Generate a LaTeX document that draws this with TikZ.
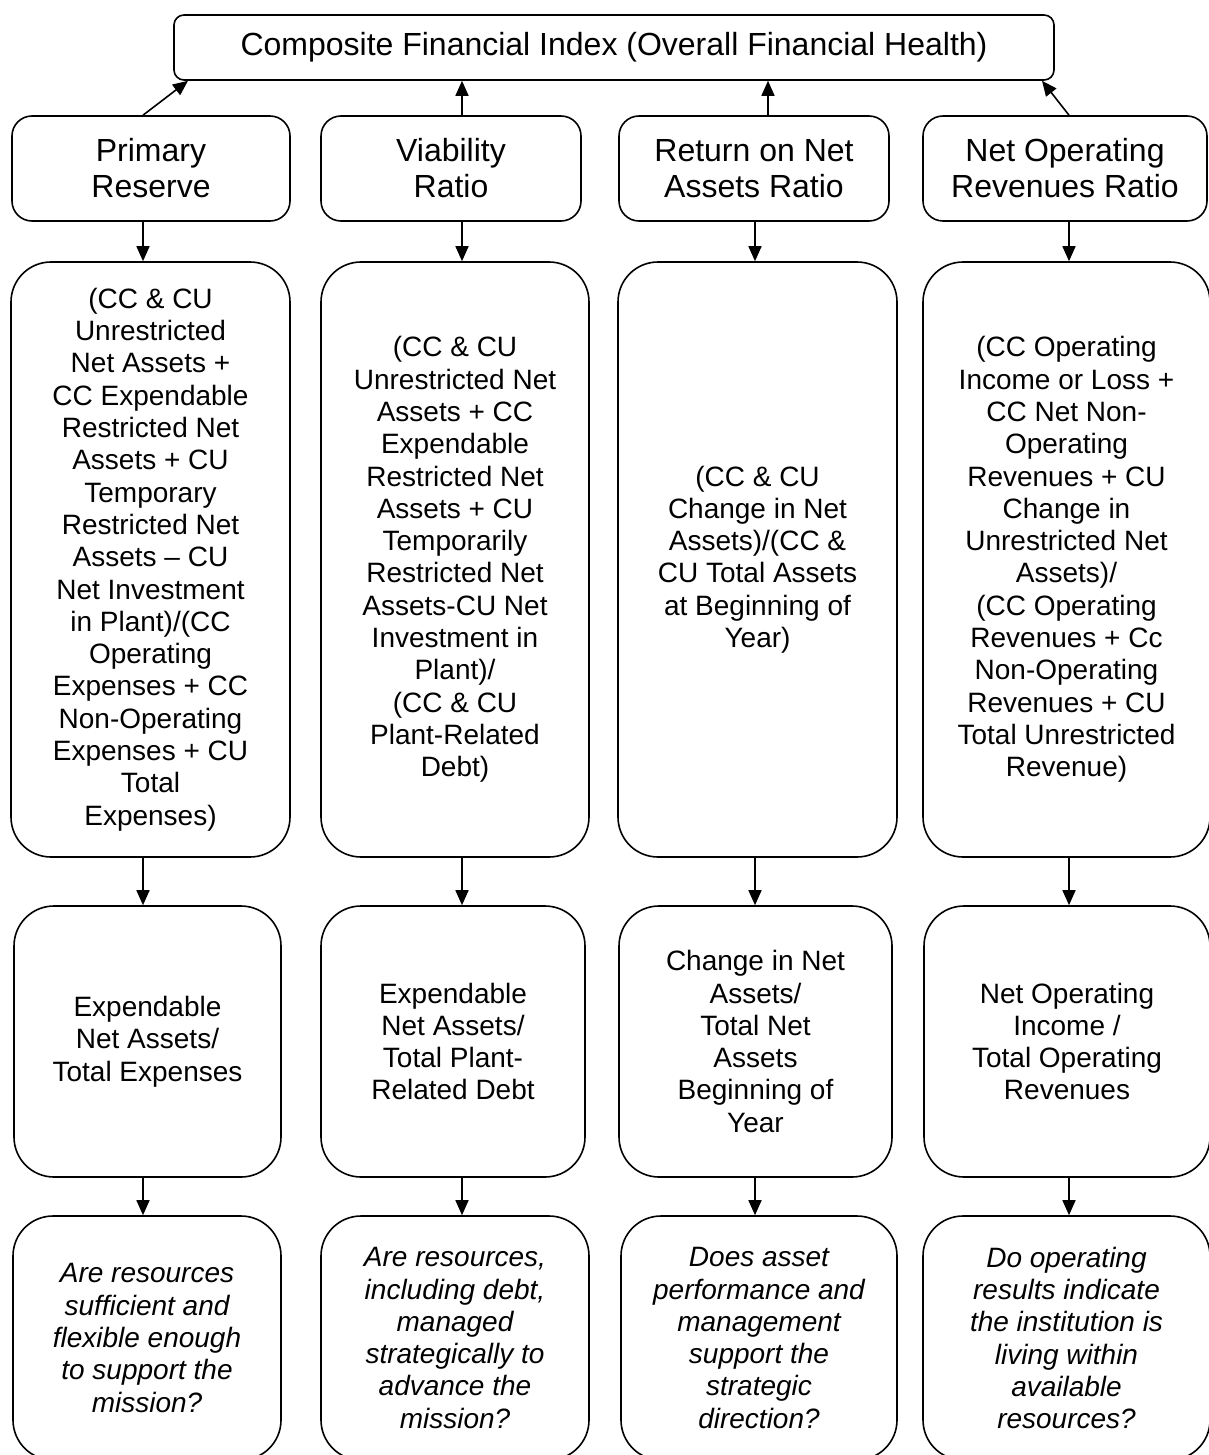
\documentclass[tikz,border=0pt]{standalone}
\usepackage{fontspec}
\setmainfont{Liberation Sans}
\usetikzlibrary{arrows.meta}
\begin{document}
\begin{tikzpicture}[x=1pt,y=-1pt,
  topbox/.style={draw, line width=1.6pt, rounded corners=10pt, inner sep=0pt, align=center, font=\fontsize{32}{36}\selectfont},
  headbox/.style={draw, line width=1.6pt, rounded corners=20pt, inner sep=0pt, align=center, font=\fontsize{32}{36}\selectfont},
  bodybox/.style={draw, line width=1.6pt, rounded corners=40pt, inner sep=0pt, align=center, font=\fontsize{28}{32.3}\selectfont},
  qbox/.style={bodybox, font=\fontsize{28}{32.3}\selectfont\itshape},
  conn/.style={line width=1.6pt, -{Triangle[length=15pt,width=13pt]}}]
\fill[white] (0,0) rectangle (1208,1455);
\useasboundingbox (0,0) rectangle (1208,1455);

% arrow columns
\coordinate (ax) at (143,0);
\coordinate (bx) at (462,0);
\coordinate (cx) at (755,0);
\coordinate (dx) at (1069,0);
\coordinate (atop) at (188,0);
\coordinate (ctop) at (768,0);
\coordinate (dtop) at (1042,0);

\node[topbox, minimum width=880, minimum height=65] (top) at (614,47.5)
  {Composite Financial Index (Overall Financial Health)};

% row 1
\node[headbox, minimum width=278, minimum height=105] (r1a) at (151,168.5) {Primary\\Reserve};
\node[headbox, minimum width=260, minimum height=105] (r1b) at (451,168.5) {Viability\\Ratio};
\node[headbox, minimum width=270, minimum height=105] (r1c) at (754,168.5) {Return on Net\\Assets Ratio};
\node[headbox, minimum width=284, minimum height=105] (r1d) at (1065,168.5) {Net Operating\\Revenues Ratio};

% row 2
\node[bodybox, minimum width=279, minimum height=595] (r2a) at (150.5,559.5)
  {(CC \& CU\\Unrestricted\\Net Assets +\\CC Expendable\\Restricted Net\\Assets + CU\\Temporary\\Restricted Net\\Assets – CU\\Net Investment\\in Plant)/(CC\\Operating\\Expenses + CC\\Non-Operating\\Expenses + CU\\Total\\Expenses)};
\node[bodybox, minimum width=268, minimum height=595] (r2b) at (455,559.5)
  {(CC \& CU\\Unrestricted Net\\Assets + CC\\Expendable\\Restricted Net\\Assets + CU\\Temporarily\\Restricted Net\\Assets-CU Net\\Investment in\\Plant)/\\(CC \& CU\\Plant-Related\\Debt)};
\node[bodybox, minimum width=279, minimum height=595] (r2c) at (757.5,559.5)
  {(CC \& CU\\Change in Net\\Assets)/(CC \&\\CU Total Assets\\at Beginning of\\Year)};
\node[bodybox, minimum width=287, minimum height=595] (r2d) at (1066.5,559.5)
  {(CC Operating\\Income or Loss +\\CC Net Non-\\Operating\\Revenues + CU\\Change in\\Unrestricted Net\\Assets)/\\(CC Operating\\Revenues + Cc\\Non-Operating\\Revenues + CU\\Total Unrestricted\\Revenue)};

% row 3
\node[bodybox, minimum width=267, minimum height=271] (r3a) at (147.5,1041.5)
  {Expendable\\Net Assets/\\Total Expenses};
\node[bodybox, minimum width=264, minimum height=271] (r3b) at (453,1041.5)
  {Expendable\\Net Assets/\\Total Plant-\\Related Debt};
\node[bodybox, minimum width=273, minimum height=271] (r3c) at (755.5,1041.5)
  {Change in Net\\Assets/\\Total Net\\Assets\\Beginning of\\Year};
\node[bodybox, minimum width=286, minimum height=271] (r3d) at (1067,1041.5)
  {Net Operating\\Income /\\Total Operating\\Revenues};

% row 4
\node[qbox, minimum width=268, minimum height=244] (r4a) at (147,1338)
  {Are resources\\sufficient and\\flexible enough\\to support the\\mission?};
\node[qbox, minimum width=268, minimum height=244] (r4b) at (455,1338)
  {Are resources,\\including debt,\\managed\\strategically to\\advance the\\mission?};
\node[qbox, minimum width=276, minimum height=244] (r4c) at (759,1338)
  {Does asset\\performance and\\management\\support the\\strategic\\direction?};
\node[qbox, minimum width=287, minimum height=244] (r4d) at (1066.5,1338)
  {Do operating\\results indicate\\the institution is\\living within\\available\\resources?};

% arrows up to top
\draw[conn] (r1a.north -| ax) -- (top.south -| atop);
\draw[conn] (r1b.north -| bx) -- (top.south -| bx);
\draw[conn] (r1c.north -| ctop) -- (top.south -| ctop);
\draw[conn] (r1d.north -| dx) -- (top.south -| dtop);

% arrows down
\foreach \c/\x in {a/ax,b/bx,c/cx,d/dx}{
  \draw[conn] (r1\c.south -| \x) -- (r2\c.north -| \x);
  \draw[conn] (r2\c.south -| \x) -- (r3\c.north -| \x);
  \draw[conn] (r3\c.south -| \x) -- (r4\c.north -| \x);
}
\end{tikzpicture}
\end{document}
